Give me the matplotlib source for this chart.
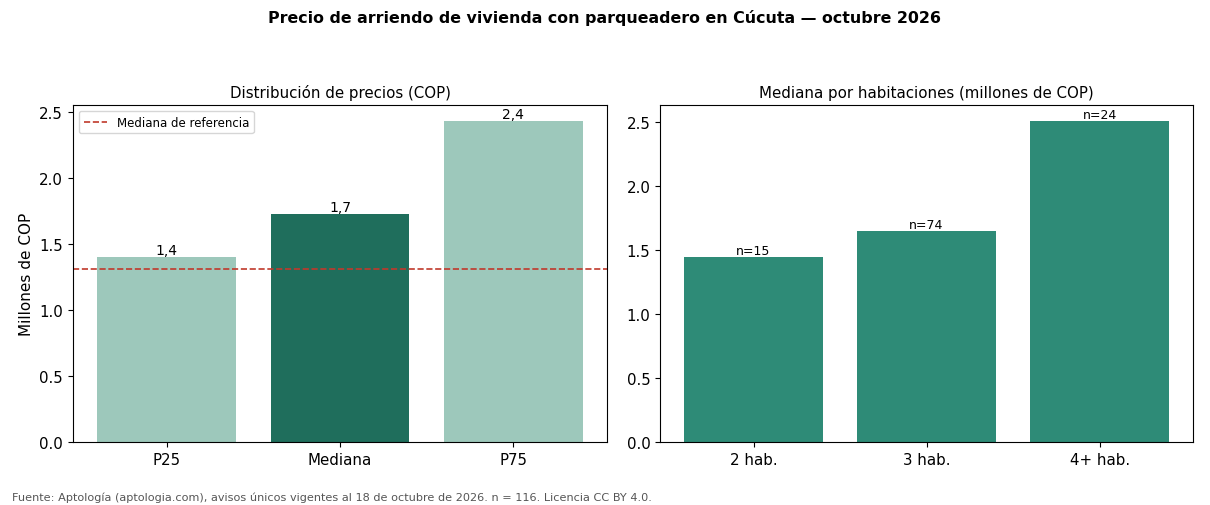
import matplotlib
matplotlib.use("Agg")
import matplotlib.pyplot as plt

dist_labels = ["P25", "Mediana", "P75"]
dist_values = [1.40, 1.73, 2.43]
dist_text = ["1,4", "1,7", "2,4"]
ref_median = 1.31

hab_labels = ["2 hab.", "3 hab.", "4+ hab."]
hab_values = [1.45, 1.65, 2.51]
hab_n = [15, 74, 24]

light = "#9dc8bb"
dark = "#1f6e5c"
mid = "#2e8b77"
red = "#c0392b"

fig = plt.figure(figsize=(12.1, 5.06), dpi=100)
ax1 = fig.add_axes([0.0603, 0.1245, 0.4414, 0.666])
ax2 = fig.add_axes([0.5455, 0.1245, 0.4405, 0.666])

cols = [light, dark, light]
b1 = ax1.bar(dist_labels, dist_values, color=cols, width=0.8)
for rect, t in zip(b1, dist_text):
    ax1.text(rect.get_x() + rect.get_width() / 2, rect.get_height(), t,
             ha="center", va="bottom", fontsize=10)
ax1.axhline(ref_median, color=red, linestyle="--", linewidth=1.2, label="Mediana de referencia")
ax1.legend(loc="upper left", fontsize=8.5)
ax1.set_ylim(0, max(dist_values) * 1.05)
ax1.set_ylabel("Millones de COP", fontsize=11)
ax1.set_title("Distribución de precios (COP)", fontsize=10.8)

b2 = ax2.bar(hab_labels, hab_values, color=mid, width=0.8)
for rect, n in zip(b2, hab_n):
    ax2.text(rect.get_x() + rect.get_width() / 2, rect.get_height(), f"n={n}",
             ha="center", va="bottom", fontsize=9)
ax2.set_ylim(0, max(hab_values) * 1.05)
ax2.set_title("Mediana por habitaciones (millones de COP)", fontsize=10.8)

for ax in (ax1, ax2):
    ax.tick_params(labelsize=10.8)

fig.suptitle("Precio de arriendo de vivienda con parqueadero en Cúcuta — octubre 2026",
             fontsize=11.4, fontweight="bold", y=0.98)
fig.text(0.01, 0.01, "Fuente: Aptología (aptologia.com), avisos únicos vigentes al 18 de octubre de 2026. n = 116. Licencia CC BY 4.0.",
         fontsize=8.1, color="#555555")

fig.savefig("out.png", dpi=100)
